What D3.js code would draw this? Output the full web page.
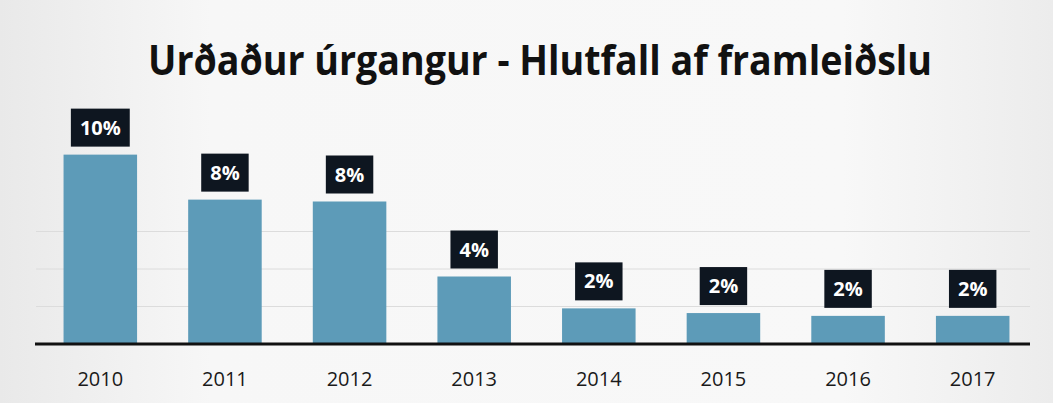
<!DOCTYPE html>
<html>
<head>
<meta charset="utf-8">
<script src="https://cdn.jsdelivr.net/npm/d3@7"></script>
<style>
  body { margin: 0; background: #f1f1f1; }
  svg { display: block; }
</style>
</head>
<body>
<svg id="chart" width="1053" height="403"></svg>
<script>
const years = ["2010", "2011", "2012", "2013", "2014", "2015", "2016", "2017"];
const shares = [10.1, 7.7, 7.6, 3.6, 1.9, 1.65, 1.5, 1.5];
const gridTicks = [2, 4, 6];
const title = "Urðaður úrgangur - Hlutfall af framleiðslu";

const width = 1053, height = 403;
const base = 344;

const svg = d3.select("#chart");

// background, a bit whiter in the middle like the scan
const defs = svg.append("defs");
const grad = defs.append("linearGradient").attr("id", "bg");
grad.append("stop").attr("offset", "0%").attr("stop-color", "#e9e9e9");
grad.append("stop").attr("offset", "20%").attr("stop-color", "#f7f7f7");
grad.append("stop").attr("offset", "80%").attr("stop-color", "#f8f8f8");
grad.append("stop").attr("offset", "100%").attr("stop-color", "#ececec");
svg.append("rect").attr("width", width).attr("height", height).attr("fill", "url(#bg)");

const x = d3.scaleBand()
  .domain(years)
  .range([38, 1035])
  .paddingInner(0.41)
  .paddingOuter(0.205);

const y = d3.scaleLinear()
  .domain([0, 12])
  .range([base, base - 225]);

// grid
svg.append("g")
  .selectAll("line")
  .data(gridTicks)
  .join("line")
  .attr("x1", 36)
  .attr("x2", 1030)
  .attr("y1", (d) => y(d))
  .attr("y2", (d) => y(d))
  .attr("stroke", "#dcdcdc")
  .attr("stroke-width", 1);

// title
svg.append("text")
  .attr("x", 540)
  .attr("y", 75)
  .attr("text-anchor", "middle")
  .attr("font-family", "'Open Sans', sans-serif")
  .attr("font-weight", "bold")
  .attr("font-size", 41)
  .attr("textLength", 784)
  .attr("lengthAdjust", "spacingAndGlyphs")
  .attr("fill", "#111")
  .text(title);

const data = years.map((yr, i) => ({ year: yr, value: shares[i] }));

// bars
svg.append("g")
  .selectAll("rect")
  .data(data)
  .join("rect")
  .attr("x", (d) => x(d.year))
  .attr("y", (d) => y(d.value))
  .attr("width", x.bandwidth())
  .attr("height", (d) => base - y(d.value))
  .attr("fill", "#5d9bb8");

// value labels in dark boxes
const lab = svg.append("g")
  .selectAll("g")
  .data(data)
  .join("g")
  .attr("transform", (d) => `translate(${x(d.year) + x.bandwidth() / 2},${y(d.value) - 8})`);

lab.append("text")
  .attr("x", 0)
  .attr("y", -12)
  .attr("text-anchor", "middle")
  .attr("font-family", "'Open Sans', sans-serif")
  .attr("font-weight", "bold")
  .attr("font-size", 20)
  .attr("fill", "#fff")
  .text((d) => Math.round(d.value) + "%");

lab.each(function () {
  const g = d3.select(this);
  const w = g.select("text").node().getComputedTextLength() + 18;
  g.insert("rect", "text")
    .attr("x", -w / 2)
    .attr("y", -38)
    .attr("width", w)
    .attr("height", 38)
    .attr("fill", "#0e1620");
});

// baseline
svg.append("line")
  .attr("x1", 35)
  .attr("x2", 1030)
  .attr("y1", base)
  .attr("y2", base)
  .attr("stroke", "#111")
  .attr("stroke-width", 3);

// year labels
svg.append("g")
  .selectAll("text")
  .data(years)
  .join("text")
  .attr("x", (d) => x(d) + x.bandwidth() / 2)
  .attr("y", 386)
  .attr("text-anchor", "middle")
  .attr("font-family", "'Open Sans', sans-serif")
  .attr("font-size", 20)
  .attr("fill", "#1a1a1a")
  .text((d) => d);
</script>
</body>
</html>
